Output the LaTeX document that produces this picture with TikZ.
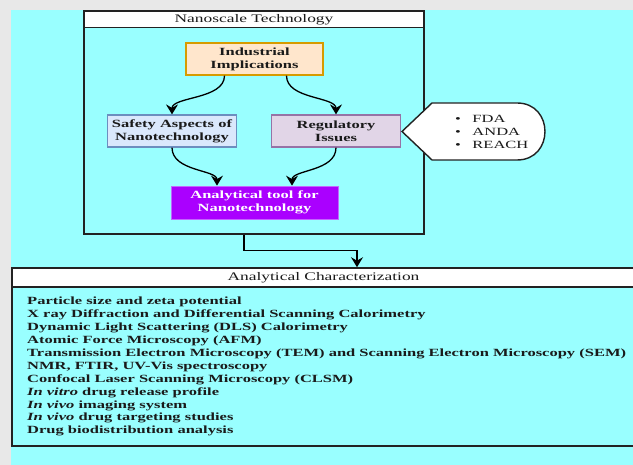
\documentclass[tikz,border=0pt]{standalone}
\usepackage{fontspec}
\setmainfont[FakeStretch=1.5]{Liberation Serif}
\usetikzlibrary{arrows.meta}
\definecolor{bggrey}{HTML}{E8E8E8}
\definecolor{cyanbg}{HTML}{99FFFF}
\definecolor{frame}{HTML}{222222}
\definecolor{txt}{HTML}{1A1A1A}
\definecolor{peachf}{HTML}{FFE6CC}
\definecolor{peachd}{HTML}{D79B00}
\definecolor{bluef}{HTML}{DAE8FC}
\definecolor{blued}{HTML}{6C8EBF}
\definecolor{purf}{HTML}{E1D5E7}
\definecolor{purd}{HTML}{9673A6}
\definecolor{violf}{HTML}{AA00FF}
\definecolor{viold}{HTML}{C266FF}
\tikzset{
  container/.style={draw=frame, line width=1.6pt, fill=none, inner sep=0pt},
  titlebar/.style={draw=frame, line width=1.6pt, fill=white, inner sep=0pt, text=txt,
    font=\fontsize{11.6}{13}\selectfont},
  box/.style={line width=1.2pt, inner sep=0pt, align=center, text=txt,
    font=\fontsize{11}{13}\selectfont\bfseries},
  conn/.style={line width=1.3pt, draw=black, -{Stealth[length=10pt,width=12pt,inset=3.5pt]}},
}
\begin{document}
\begin{tikzpicture}[x=1pt,y=-1pt]
\useasboundingbox (0,0) rectangle (633,465);
\fill[bggrey] (0,0) rectangle (633,465);
\fill[cyanbg] (11,10) rectangle (633,465);

% top container
\node[container, minimum width=340pt, minimum height=223pt] (nano) at (254,122.5) {};
\node[titlebar, minimum width=340pt, minimum height=16.5pt] (nanotitle) at (254,19.25) {Nanoscale Technology};

% boxes
\node[box, draw=peachd, fill=peachf, minimum width=137pt, minimum height=32pt] (indus) at (254.5,59) {Industrial\\Implications};
\node[box, draw=blued, fill=bluef, minimum width=129pt, minimum height=32pt] (safety) at (172,131) {Safety Aspects of\\Nanotechnology};
\node[box, draw=purd, fill=purf, minimum width=129pt, minimum height=32pt] (regul) at (336,131) {Regulatory\\Issues};
\node[box, draw=viold, fill=violf, text=white, line width=0.8pt, minimum width=167pt, minimum height=33pt] (tool) at (254.5,202.5) {Analytical tool for\\Nanotechnology};

% curved arrows
\draw[conn] ([xshift=-30pt]indus.south) .. controls +(0,24) and +(0,-18) .. (safety.north);
\draw[conn] ([xshift=32pt]indus.south) .. controls +(0,24) and +(0,-18) .. (regul.north);
\draw[conn] (safety.south) .. controls +(0,24) and +(0,-16) .. ([xshift=-37.5pt]tool.north);
\draw[conn] (regul.south) .. controls +(0,24) and +(0,-16) .. ([xshift=37.5pt]tool.north);

% callout
\draw[draw=frame, line width=1.4pt, fill=white] (402,131.5) -- (432,103) -- (517,103)
  .. controls (554.3,103) and (554.3,160) .. (517,160) -- (432,160) -- cycle;
\node[anchor=west, align=left, inner sep=0pt, text=txt, font=\fontsize{11}{13}\selectfont] (regs) at (455,131.5)
  {\textbullet\hspace{11.5pt}FDA\\\textbullet\hspace{11.5pt}ANDA\\\textbullet\hspace{11.5pt}REACH};

% bottom container
\node[container, minimum width=623pt, minimum height=178pt] (charbox) at (323.5,357) {};
\node[titlebar, minimum width=623pt, minimum height=19pt] (chartitle) at (323.5,277.5) {Analytical Characterization};

% connector
\draw[conn] ([xshift=-10pt]nano.south) -- ++(0,16) -| ([xshift=33.5pt]chartitle.north);

% list
\node[anchor=north west, align=left, inner sep=0pt, text=txt, font=\fontsize{11}{12.9}\selectfont\bfseries] (list) at (27,297)
  {Particle size and zeta potential\\
   X ray Diffraction and Differential Scanning Calorimetry\\
   Dynamic Light Scattering (DLS) Calorimetry\\
   Atomic Force Microscopy (AFM)\\
   Transmission Electron Microscopy (TEM) and Scanning Electron Microscopy (SEM)\\
   NMR, FTIR, UV-Vis spectroscopy\\
   Confocal Laser Scanning Microscopy (CLSM)\\
   \textit{In vitro} drug release profile\\
   \textit{In vivo} imaging system\\
   \textit{In vivo} drug targeting studies\\
   Drug biodistribution analysis};
\end{tikzpicture}
\end{document}
